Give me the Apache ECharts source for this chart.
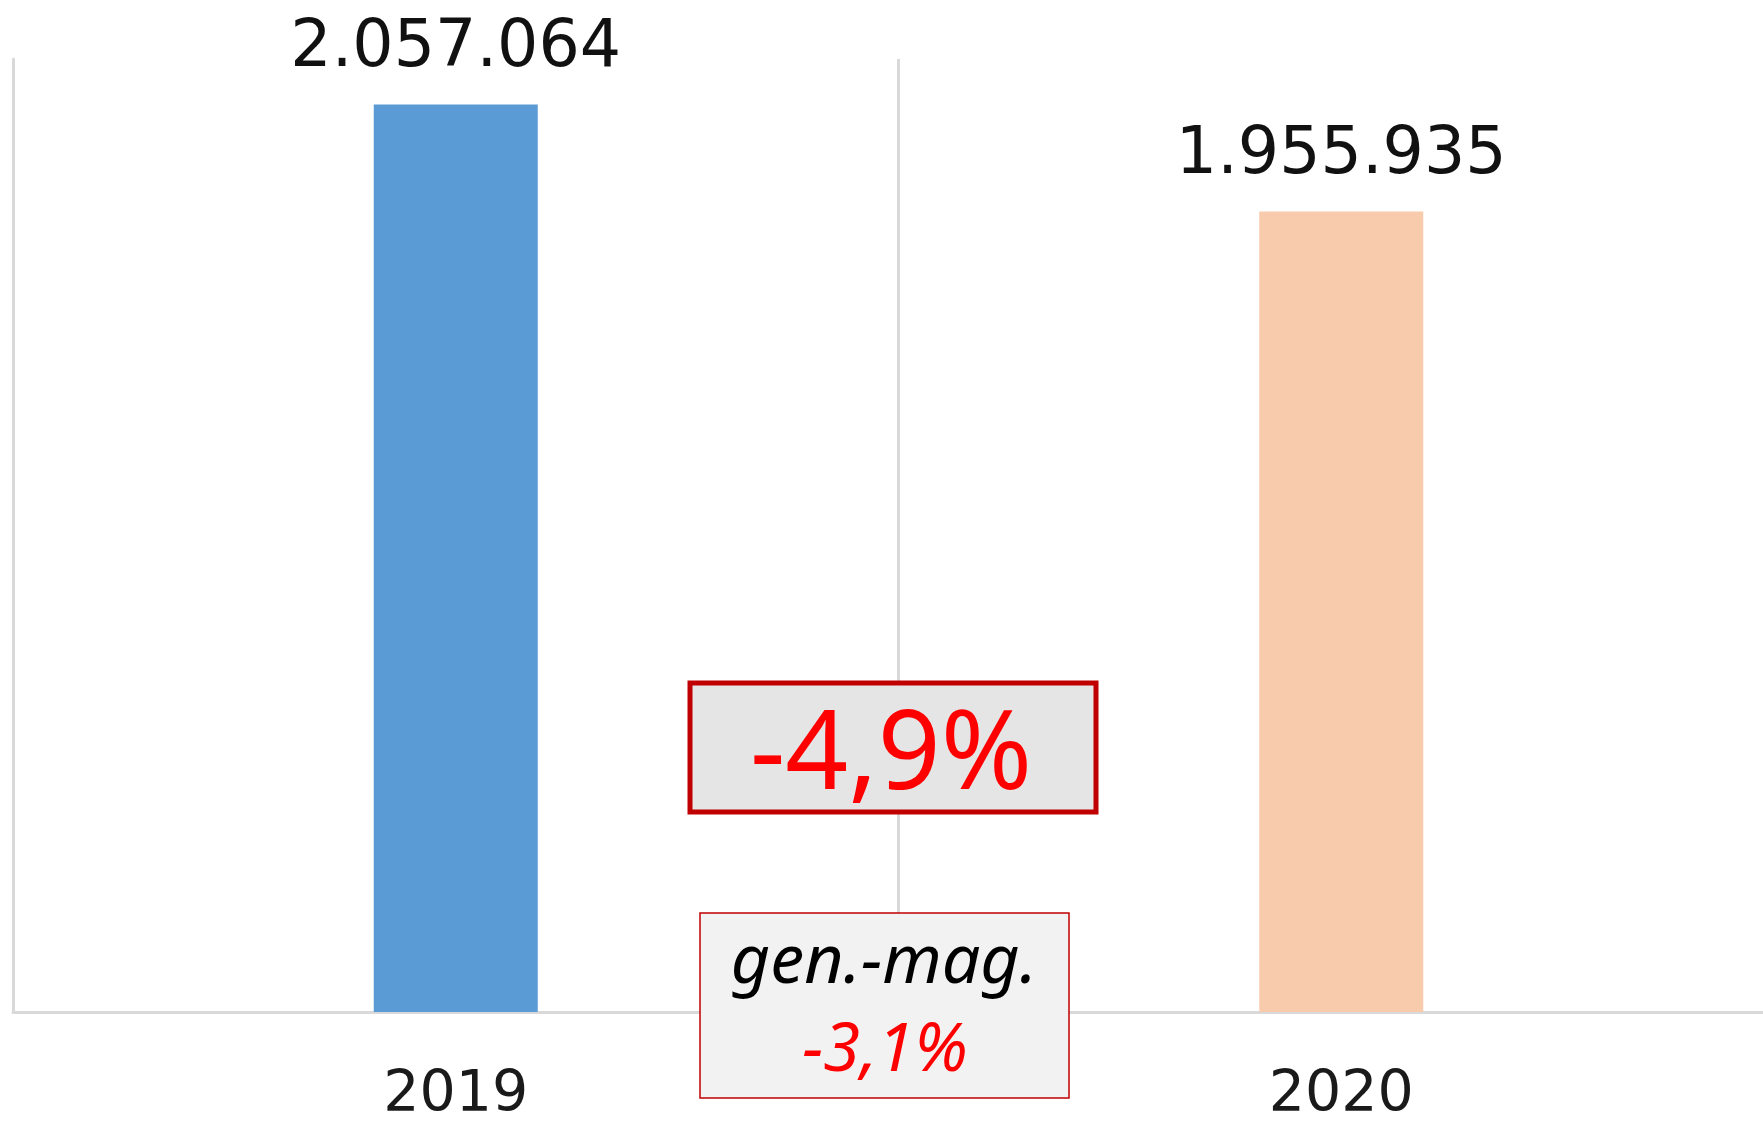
<!DOCTYPE html>
<html>
<head>
<meta charset="utf-8">
<script src="https://cdn.jsdelivr.net/npm/echarts@6/dist/echarts.min.js"></script>
<style>html,body{margin:0;padding:0;background:#fff;}#c{width:1763px;height:1122px;}</style>
</head>
<body>
<div id="c"></div>
<script>
const categories = ['2019', '2020'];
const values = [2057064, 1955935];
const barColors = ['#5b9bd5', '#f8cbad'];
const changeText = '-4,9%';
const genMagLabel = 'gen.-mag.';
const genMagText = '-3,1%';

function fmt(v) {
  return String(v).replace(/\B(?=(\d{3})+(?!\d))/g, '.');
}

const chart = echarts.init(document.getElementById('c'));
chart.setOption({
  animation: false,
  backgroundColor: '#ffffff',
  grid: { left: 13, top: 59, width: 1771, height: 953, containLabel: false, outerBoundsMode: 'none' },
  xAxis: {
    type: 'category',
    data: categories,
    boundaryGap: true,
    axisLine: { show: true, lineStyle: { color: '#d9d9d9', width: 3 } },
    axisTick: { show: false },
    splitLine: { show: true, lineStyle: { color: '#d9d9d9', width: 3 } },
    axisLabel: { fontFamily: 'DejaVu Sans', fontSize: 57, lineHeight: 56, color: '#1a1a1a', margin: 56 }
  },
  yAxis: {
    type: 'value',
    min: 1200000,
    max: 2100000,
    axisLine: { show: true, lineStyle: { color: '#d9d9d9', width: 3 } },
    axisTick: { show: false },
    axisLabel: { show: false },
    splitLine: { show: false }
  },
  series: [{
    type: 'bar',
    barWidth: 164,
    data: values.map((v, i) => ({ value: v, itemStyle: { color: barColors[i] } })),
    label: {
      show: true,
      position: 'top',
      distance: 22,
      formatter: p => fmt(p.value),
      fontFamily: 'DejaVu Sans',
      fontSize: 65,
      lineHeight: 66,
      color: '#111'
    }
  }],
  graphic: [
    { type: 'rect', z: 100, shape: { x: 690, y: 683, width: 406, height: 129 },
      style: { fill: '#e5e5e5', stroke: '#c00000', lineWidth: 5 } },
    { type: 'text', z: 101, x: 891, y: 758,
      style: { text: changeText, fill: '#ff0000', font: '110px "Noto Sans"', textAlign: 'center', textVerticalAlign: 'middle' } },
    { type: 'rect', z: 100, shape: { x: 700, y: 913, width: 369, height: 185 },
      style: { fill: '#f2f2f2', stroke: '#c00000', lineWidth: 1.5 } },
    { type: 'text', z: 101, x: 884, y: 964,
      style: { text: genMagLabel, fill: '#000000', font: 'italic 68px "Noto Sans"', textAlign: 'center', textVerticalAlign: 'middle' } },
    { type: 'text', z: 101, x: 885, y: 1052,
      style: { text: genMagText, fill: '#ff0000', font: 'italic 67px "Noto Sans"', textAlign: 'center', textVerticalAlign: 'middle' } }
  ]
});
</script>
</body>
</html>
